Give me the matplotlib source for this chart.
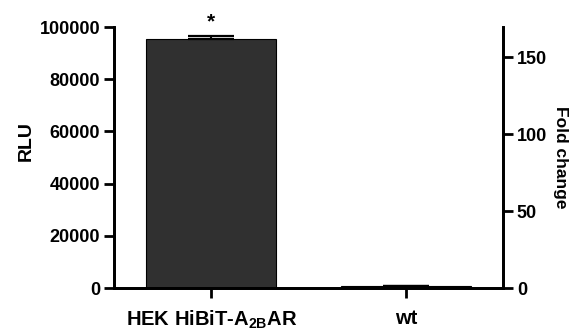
import numpy as np
import matplotlib.pyplot as plt

plt.rcParams["font.family"] = ["Liberation Sans", "DejaVu Sans"]
plt.rcParams["font.weight"] = "bold"
plt.rcParams["mathtext.fontset"] = "custom"
plt.rcParams["mathtext.rm"] = "Liberation Sans:bold"
plt.rcParams["mathtext.bf"] = "Liberation Sans:bold"
plt.rcParams["mathtext.default"] = "bf"

# data
categories = [r"HEK HiBiT-A$_{2B}$AR", "wt"]
rlu_mean = [95300, 590]
rlu_err = [1250, 200]
significance = ["*", ""]
left_ticks = [0, 20000, 40000, 60000, 80000, 100000]
right_ticks = [0, 50, 100, 150]

fig = plt.figure(figsize=(5.74, 3.31), dpi=100)
ax = fig.add_axes([0.1986, 0.1299, 0.6777, 0.7885])

x = np.arange(len(categories))
ax.bar(x, rlu_mean, width=0.67, color="#303030", edgecolor="black", linewidth=0.8, zorder=2)
ax.errorbar(x, rlu_mean, yerr=[np.zeros(len(x)), rlu_err], fmt="none", ecolor="black",
            elinewidth=1.5, capsize=16.5, capthick=1.6, zorder=3)

for xi, m, e, s in zip(x, rlu_mean, rlu_err, significance):
    if s:
        ax.annotate(s, (xi, m + e), xytext=(0, 3), textcoords="offset points",
                    ha="center", va="bottom", fontsize=15, fontweight="bold",
                    annotation_clip=False)

ax.set_xlim(-0.5, 1.5)
ax.set_ylim(0, 100000)
ax.set_yticks(left_ticks)
ax.set_xticks(x)
ax.set_xticklabels(categories)
ax.set_ylabel("RLU", fontsize=14, fontweight="bold", va="center")
ax.yaxis.set_label_coords(-0.225, 0.565)

# fold change relative to wt
ax2 = ax.twinx()
ax2.set_ylim(0, 100000 / rlu_mean[1])
ax2.set_yticks(right_ticks)
ax2.set_ylabel("Fold change", fontsize=12.5, fontweight="bold", rotation=-90, va="center")
ax2.yaxis.set_label_coords(1.148, 0.5)

for a in (ax, ax2):
    for sp in a.spines.values():
        sp.set_linewidth(2)
    a.spines["top"].set_visible(False)
    a.tick_params(width=2, length=7, labelsize=13, pad=3)
    for lab in a.get_yticklabels() + a.get_xticklabels():
        lab.set_fontweight("bold")
ax.tick_params(axis="x", labelsize=14.5, pad=8)

fig.savefig("out.png", dpi=100)
